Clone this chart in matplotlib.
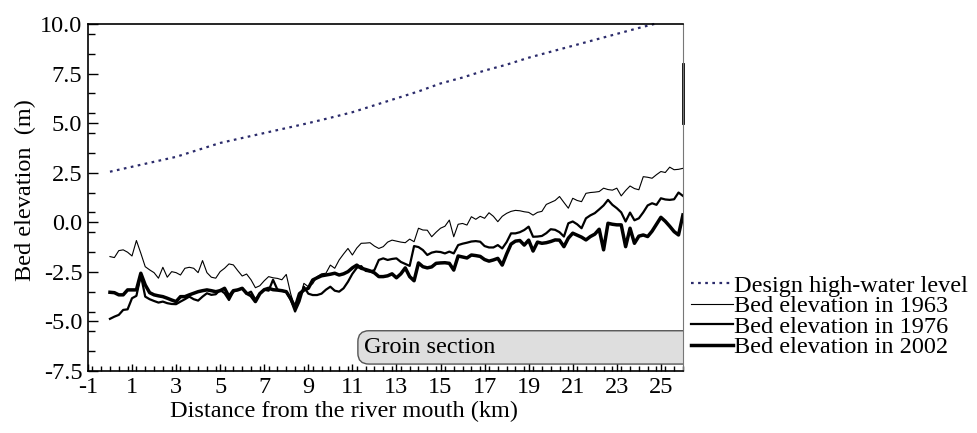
import matplotlib
matplotlib.use("Agg")
import matplotlib.pyplot as plt
from matplotlib.patches import FancyBboxPatch
from matplotlib.ticker import MultipleLocator, FixedLocator
import numpy as np

matplotlib.rcParams['font.family'] = ['Liberation Serif', 'DejaVu Serif']
matplotlib.rcParams['axes.unicode_minus'] = False

# 距离 (km)，每 0.2 km 一个点
dist = [round(0.2 * i, 1) for i in range(131)]

bed_1963 = [
    -1.73, -1.78, -1.43, -1.39, -1.51, -1.70, -0.92, -1.56, -2.24, -2.40,
    -2.54, -2.82, -2.27, -2.77, -2.49, -2.54, -2.66, -2.32, -2.27, -2.32,
    -2.54, -1.93, -2.54, -2.77, -2.82, -2.49, -2.32, -2.10, -2.15, -2.44,
    -2.71, -2.61, -2.90, -3.30, -3.20, -2.95, -2.74, -2.80, -2.83, -2.90,
    -2.63, -3.60, -4.34, -3.90, -3.08, -3.25, -3.10, -2.74, -2.60, -2.57,
    -2.16, -2.32, -1.90, -1.60, -1.32, -1.65, -1.30, -1.06, -1.05, -1.03,
    -1.20, -1.32, -1.23, -1.00, -0.90, -0.95, -1.00, -1.03, -0.85, -0.98,
    -0.30, -0.39, -0.40, -0.73, -0.50, -0.30, -0.20, 0.11, -0.73, -0.10,
    -0.06, -0.14, 0.28, 0.15, 0.30, 0.20, 0.48, 0.30, 0.03, 0.30,
    0.45, 0.55, 0.60, 0.58, 0.53, 0.50, 0.36, 0.50, 0.55, 0.90,
    1.00, 1.10, 1.30, 1.00, 0.71, 1.21, 1.10, 1.04, 1.46, 1.50,
    1.52, 1.55, 1.72, 1.65, 1.62, 1.72, 1.33, 1.60, 1.83, 1.70,
    1.64, 2.30, 2.27, 2.22, 2.40, 2.56, 2.51, 2.78, 2.65, 2.67,
    2.72,
]

bed_1976 = [
    -4.87, -4.76, -4.67, -4.42, -4.39, -3.83, -3.71, -2.66, -3.75, -3.88,
    -3.97, -4.05, -4.00, -4.08, -4.12, -4.13, -4.00, -3.88, -3.75, -3.88,
    -3.95, -3.75, -3.58, -3.66, -3.63, -3.41, -3.58, -3.92, -3.50, -3.41,
    -3.33, -3.61, -3.50, -3.90, -3.60, -3.40, -3.45, -2.90, -3.40, -3.45,
    -3.50, -3.90, -4.50, -4.00, -3.25, -3.60, -3.67, -3.67, -3.60, -3.40,
    -3.25, -3.45, -3.50, -3.33, -3.00, -2.60, -2.30, -2.21, -2.45, -2.49,
    -2.41, -1.90, -1.82, -1.90, -1.85, -1.82, -2.00, -2.10, -2.20, -1.20,
    -1.25, -1.40, -1.65, -1.53, -1.48, -1.50, -1.57, -1.48, -1.57, -1.15,
    -1.08, -1.03, -0.97, -0.95, -0.98, -1.20, -1.27, -1.27, -1.15, -1.32,
    -1.00, -0.56, -0.56, -0.50, -0.39, -0.22, -0.73, -0.72, -0.69, -0.55,
    -0.35, -0.38, -0.50, -0.72, -0.05, 0.04, -0.10, -0.30, 0.20, 0.35,
    0.46, 0.65, 0.85, 1.13, 0.88, 0.71, 0.50, 0.04, 0.49, 0.10,
    0.20, 0.50, 0.85, 0.96, 0.88, 1.21, 1.15, 1.13, 1.16, 1.50,
    1.33,
]

bed_2002 = [
    -3.53, -3.55, -3.66, -3.66, -3.41, -3.41, -3.41, -2.57, -3.16, -3.55,
    -3.66, -3.71, -3.75, -3.83, -3.92, -4.00, -3.75, -3.75, -3.66, -3.58,
    -3.50, -3.45, -3.41, -3.45, -3.50, -3.45, -3.33, -3.75, -3.45, -3.41,
    -3.33, -3.58, -3.70, -4.00, -3.60, -3.40, -3.33, -3.40, -3.42, -3.45,
    -3.50, -3.85, -4.30, -3.60, -3.42, -3.33, -2.91, -2.80, -2.70, -2.66,
    -2.62, -2.57, -2.66, -2.60, -2.49, -2.30, -2.16, -2.32, -2.38, -2.45,
    -2.55, -2.74, -2.74, -2.70, -2.60, -2.80, -2.60, -2.30, -2.74, -2.95,
    -2.05, -2.24, -2.30, -2.25, -2.07, -2.05, -2.04, -2.07, -2.41, -1.70,
    -1.75, -1.80, -1.65, -1.68, -1.72, -1.88, -1.96, -1.90, -1.82, -2.16,
    -1.60, -1.10, -0.95, -0.92, -1.15, -0.90, -1.45, -1.00, -1.06, -1.03,
    -0.97, -0.89, -0.90, -1.23, -0.80, -0.55, -0.65, -0.75, -0.89, -0.72,
    -0.60, -0.35, -1.39, -0.05, -0.10, -0.13, -0.13, -1.23, -0.30, -1.06,
    -0.70, -0.64, -0.72, -0.45, -0.10, 0.25, 0.05, -0.20, -0.47, -0.64,
    0.37,
]

# 计划高水位
hwl_dist = [0, 1, 2, 3, 4, 5, 6, 7, 8, 9, 10, 11, 12, 13, 14, 15, 16, 17,
            18, 19, 20, 21, 22, 23, 24, 24.7]
hwl = [2.55, 2.8, 3.05, 3.3, 3.65, 4.0, 4.25, 4.5, 4.75, 5.0, 5.27, 5.55,
       5.9, 6.25, 6.6, 7.0, 7.3, 7.65, 7.95, 8.3, 8.6, 8.9, 9.2, 9.5, 9.8, 10.0]

x_ticks = list(range(-1, 26, 2))
y_ticks = [-7.5, -5.0, -2.5, 0.0, 2.5, 5.0, 7.5, 10.0]

FS = 17.5

fig = plt.figure(figsize=(9.77, 4.33), dpi=100)
ax = fig.add_axes([0.090, 0.1432, 0.609, 0.8014])

ax.plot(hwl_dist, hwl, color='#2b2b6b', lw=1.6, dashes=(1.2, 2.0),
        label='Design high-water level', clip_on=False)
ax.plot(dist, bed_1963, color='black', lw=0.8, label='Bed elevation in 1963')
ax.plot(dist, bed_1976, color='black', lw=1.6, label='Bed elevation in 1976')
ax.plot(dist, bed_2002, color='black', lw=2.5, label='Bed elevation in 2002')

# 右侧竖线
ax.plot([26, 26], [5.0, 8.0], color='black', lw=2.0, clip_on=False)

# 丁坝区间
box = FancyBboxPatch((11.25, -7.15), 16.0, 1.68,
                     boxstyle="round,pad=0,rounding_size=0.5",
                     mutation_aspect=1.1, facecolor='#dedede',
                     edgecolor='#555555', lw=1.0, zorder=1)
ax.add_patch(box)
ax.text(11.55, -6.3, 'Groin section', fontsize=FS, va='center', ha='left')

ax.set_xlim(-1, 26)
ax.set_ylim(-7.5, 10.0)
ax.xaxis.set_major_locator(FixedLocator(x_ticks))
ax.xaxis.set_minor_locator(MultipleLocator(0.4))
ax.yaxis.set_major_locator(FixedLocator(y_ticks))
ax.yaxis.set_minor_locator(FixedLocator(np.arange(-7.5, 10.01, 1.0)))
ax.set_yticklabels([f"{v:.1f}" for v in y_ticks])
ax.tick_params(which='both', direction='in', labelsize=FS)
ax.tick_params(axis='x', which='major', length=5, width=1)
ax.tick_params(axis='x', which='minor', length=3.5, width=1)
ax.tick_params(axis='y', which='major', length=7, width=1)
ax.tick_params(axis='y', which='minor', length=5, width=1)
ax.tick_params(axis='x', pad=4)
ax.tick_params(axis='y', pad=4)

ax.spines['right'].set_color('#777777')
for s in ['left', 'bottom', 'top']:
    ax.spines[s].set_linewidth(1.2)

ax.set_xlabel('Distance from the river mouth (km)', fontsize=FS)
ax.xaxis.set_label_coords(0.43, -0.085, transform=ax.transAxes)
ax.xaxis.label.set_va('top')
ax.set_ylabel('Bed elevation  (m)', fontsize=FS)
ax.yaxis.set_label_coords(-0.088, 0.52, transform=ax.transAxes)

ax.legend(loc='upper left', bbox_to_anchor=(1.013, 0.278), frameon=False,
          fontsize=FS, handlelength=1.75, handletextpad=0.05,
          labelspacing=-0.06, borderaxespad=0, borderpad=0)

fig.savefig('out.png', dpi=100)
